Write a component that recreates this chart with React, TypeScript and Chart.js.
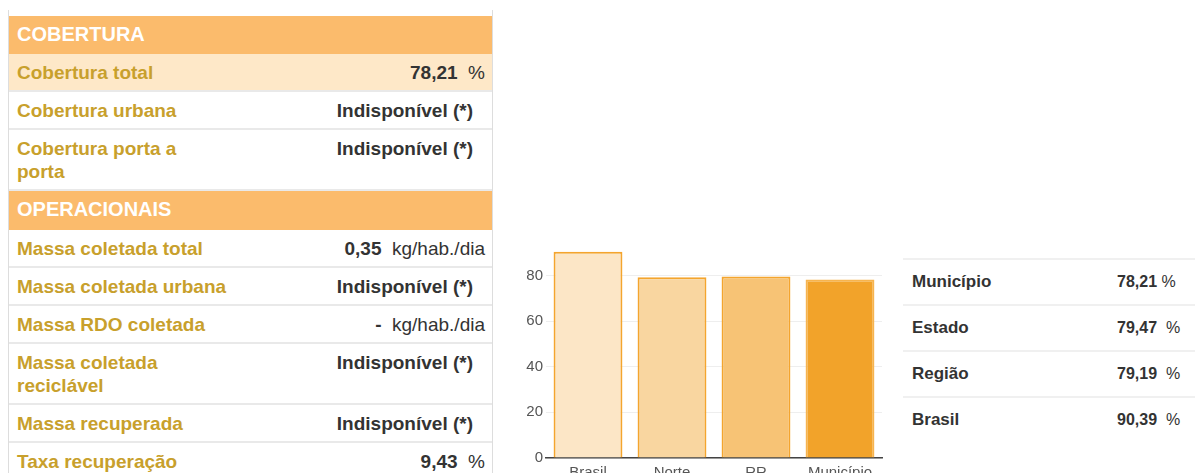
import React, { useEffect, useRef } from 'react';
import { Chart, registerables } from 'chart.js';

Chart.register(...registerables);

// ---- Chart data ----
const chartCategories = ['Brasil', 'Norte', 'RR', 'Município'];
const chartValues = [90.39, 79.19, 79.47, 78.21];
const barFills = ['#FCE6C6', '#F9D6A0', '#F7C375', '#F2A32A'];
const barBorders = ['#F4A52E', '#F4A52E', '#F4A52E', '#F7B44E'];
const yTickValues = [0, 20, 40, 60, 80];

// ---- Left table data ----
const coberturaTitle = 'COBERTURA';
const coberturaLabels = ['Cobertura total', 'Cobertura urbana', 'Cobertura porta a\nporta'];
const coberturaValues: (string | null)[] = ['78,21', null, null];
const coberturaUnits = ['%', '', ''];

const operacionaisTitle = 'OPERACIONAIS';
const operacionaisLabels = [
  'Massa coletada total',
  'Massa coletada urbana',
  'Massa RDO coletada',
  'Massa coletada\nreciclável',
  'Massa recuperada',
  'Taxa recuperação',
];
const operacionaisValues: (string | null)[] = ['0,35', null, '-', null, null, '9,43'];
const operacionaisUnits = ['kg/hab./dia', '', 'kg/hab./dia', '', '', '%'];

// ---- Right table data ----
const compareLabels = ['Município', 'Estado', 'Região', 'Brasil'];
const compareValues = ['78,21', '79,47', '79,19', '90,39'];
const compareUnits = ['%', '%', '%', '%'];

const FONT = '"Liberation Sans", Arial, Helvetica, sans-serif';
const LABEL_COLOR = '#C8A02C';
const VALUE_COLOR = '#333333';

function DataRow({ label, value, unit, highlight }: { label: string; value: string | null; unit: string; highlight?: boolean }) {
  const twoLine = label.includes('\n');
  return (
    <div
      style={{
        boxSizing: 'border-box',
        height: twoLine ? 61 : 38,
        borderBottom: '2px solid #E9E9E9',
        background: highlight ? '#FEE8C8' : '#FFFFFF',
        display: 'flex',
        alignItems: 'flex-start',
        justifyContent: 'space-between',
        padding: '7px 7px 0 8px',
        lineHeight: '23px',
        fontSize: 19,
        fontWeight: 'bold',
      }}
    >
      <div style={{ color: LABEL_COLOR, whiteSpace: 'pre-line' }}>{label}</div>
      {value === null ? (
        <div style={{ color: VALUE_COLOR, paddingRight: 12, whiteSpace: 'nowrap' }}>Indisponível (*)</div>
      ) : (
        <div style={{ color: VALUE_COLOR, whiteSpace: 'pre' }}>
          <span>{value}</span>
          <span style={{ fontWeight: 'normal' }}>{'  ' + unit}</span>
        </div>
      )}
    </div>
  );
}

function Header({ title, height }: { title: string; height: number }) {
  return (
    <div
      style={{
        boxSizing: 'border-box',
        height,
        background: '#FBBB6C',
        color: '#FFFFFF',
        fontWeight: 'bold',
        fontSize: 20,
        lineHeight: '23px',
        padding: '7px 8px 0 8px',
      }}
    >
      {title}
    </div>
  );
}

function BarChart() {
  const ref = useRef<HTMLCanvasElement | null>(null);
  useEffect(() => {
    if (!ref.current) return;
    Chart.defaults.font.family = FONT;
    const chart = new Chart(ref.current, {
      type: 'bar',
      data: {
        labels: chartCategories,
        datasets: [
          {
            data: chartValues,
            backgroundColor: barFills,
            borderColor: barBorders,
            borderWidth: 2,
            categoryPercentage: 1,
            barPercentage: 0.82,
          },
        ],
      },
      options: {
        animation: false,
        responsive: false,
        maintainAspectRatio: false,
        layout: { padding: { top: 10, right: 8, left: 0, bottom: 0 } },
        plugins: { legend: { display: false }, tooltip: { enabled: false } },
        scales: {
          x: {
            grid: { display: false, drawTicks: false },
            border: { display: true, color: '#444444', width: 1.5 },
            ticks: { color: '#555555', font: { size: 15 }, padding: 6 },
            afterFit: (s: any) => {
              s.height = 38;
            },
          },
          y: {
            min: 0,
            max: 92,
            grid: { color: '#EEEEEE', drawTicks: false },
            border: { display: false },
            ticks: { color: '#555555', font: { size: 15 }, padding: 3 },
            afterBuildTicks: (s: any) => {
              s.ticks = yTickValues.map((v) => ({ value: v }));
            },
            afterFit: (s: any) => {
              s.width = 36;
            },
          },
        },
      },
    });
    return () => chart.destroy();
  }, []);
  return <canvas ref={ref} width={380} height={260} style={{ display: 'block' }} />;
}

export default function App() {
  return (
    <div
      style={{
        position: 'fixed',
        left: 0,
        top: 0,
        width: 1195,
        height: 473,
        overflow: 'hidden',
        background: '#FFFFFF',
        fontFamily: FONT,
      }}
    >
      {/* Left table */}
      <div
        style={{
          position: 'absolute',
          left: 8,
          top: 10,
          width: 485,
          height: 480,
          boxSizing: 'border-box',
          borderLeft: '1px solid #DDDDDD',
          borderRight: '1px solid #DDDDDD',
          paddingTop: 6,
        }}
      >
        <Header title={coberturaTitle} height={38} />
        {coberturaLabels.map((l, i) => (
          <DataRow key={l} label={l} value={coberturaValues[i]} unit={coberturaUnits[i]} highlight={i === 0} />
        ))}
        <Header title={operacionaisTitle} height={39} />
        {operacionaisLabels.map((l, i) => (
          <DataRow key={l} label={l} value={operacionaisValues[i]} unit={operacionaisUnits[i]} />
        ))}
      </div>

      {/* Chart */}
      <div style={{ position: 'absolute', left: 510, top: 236, width: 380, height: 260 }}>
        <BarChart />
      </div>

      {/* Right table */}
      <div style={{ position: 'absolute', left: 903, top: 258, width: 292 }}>
        {compareLabels.map((l, i) => (
          <div
            key={l}
            style={{
              boxSizing: 'border-box',
              height: 46,
              borderTop: '2px solid #F0F0F0',
              display: 'flex',
              alignItems: 'center',
              color: VALUE_COLOR,
              fontWeight: 'bold',
            }}
          >
            <div style={{ width: 214, paddingLeft: 9, boxSizing: 'border-box', fontSize: 17 }}>{l}</div>
            <div style={{ fontSize: 16, whiteSpace: 'pre' }}>
              <span>{compareValues[i]}</span>
              <span style={{ fontWeight: 'normal' }}>{(i === 0 ? ' ' : '  ') + compareUnits[i]}</span>
            </div>
          </div>
        ))}
      </div>
    </div>
  );
}
